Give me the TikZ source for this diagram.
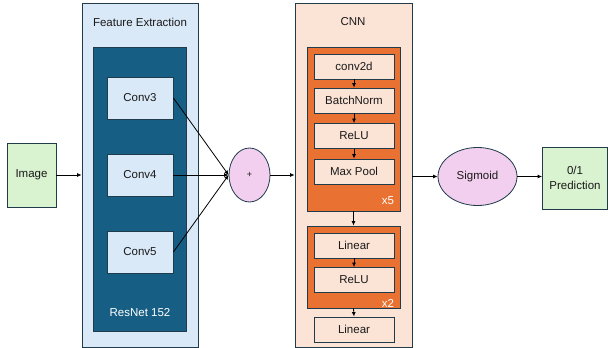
\documentclass[tikz,border=0pt]{standalone}
\usepackage{fontspec}
\setmainfont{Liberation Sans}
\usetikzlibrary{arrows.meta,shapes.geometric}
\definecolor{lblue}{HTML}{DAE9F8}
\definecolor{resblue}{HTML}{175E84}
\definecolor{bord}{HTML}{1F3B4C}
\definecolor{peach}{HTML}{FBE3D6}
\definecolor{orng}{HTML}{E97132}
\definecolor{pinkf}{HTML}{F2CFEE}
\definecolor{greenf}{HTML}{D9F2D0}
\definecolor{txt}{HTML}{1A1A1A}
\tikzset{
  x=1pt, y=-1pt,
  every node/.style={font=\fontsize{11.5}{13.5}\selectfont, inner sep=0pt, text=txt},
  frame/.style={draw=bord, line width=0.8pt, rectangle},
  bluebox/.style={frame, fill=lblue},
  peachbox/.style={frame, fill=peach, minimum width=80pt, minimum height=25pt},
  orangebox/.style={frame, fill=orng},
  greenbox/.style={frame, fill=greenf},
  oval/.style={draw=bord, line width=0.8pt, ellipse, fill=pinkf},
  arr/.style={-{Latex[length=4.5pt,width=4pt]}, line width=0.8pt, black},
  wlabel/.style={text=white},
}
\begin{document}
\begin{tikzpicture}
\useasboundingbox (0,0) rectangle (608,348);
\fill[white] (0,0) rectangle (608,348);

% Image
\node[greenbox, minimum width=49pt, minimum height=64pt] (img) at (31.5,175) {Image};

% Feature extraction
\node[bluebox, minimum width=116pt, minimum height=344pt] (fe) at (140,175) {};
\node (fetitle) at (140,22) {Feature Extraction};
\node[frame, fill=resblue, minimum width=93pt, minimum height=284pt] (res) at (139.5,189) {};
\node[wlabel] (reslabel) at (140,313) {ResNet 152};
\node[bluebox, minimum width=66pt, minimum height=42pt] (c3) at (140,98) {Conv3};
\node[bluebox, minimum width=66pt, minimum height=42pt] (c4) at (140,175) {Conv4};
\node[bluebox, minimum width=66pt, minimum height=42pt] (c5) at (140,252) {Conv5};

% plus
\node[oval, minimum width=41pt, minimum height=54pt] (plus) at (249.5,175) {\fontsize{9}{10}\selectfont +};

% CNN
\node[frame, fill=peach, minimum width=117pt, minimum height=344pt] (cnn) at (353.5,175) {};
\node (cnntitle) at (353,22) {CNN};
\node[orangebox, minimum width=93pt, minimum height=164pt] (blk1) at (353.5,129) {};
\node[wlabel] (x5) at (388,201) {x5};
\node[peachbox] (conv) at (354,66.5) {conv2d};
\node[peachbox] (bn) at (354,100.5) {BatchNorm};
\node[peachbox] (relu1) at (354,136) {ReLU};
\node[peachbox] (pool) at (354,171.5) {Max Pool};
\node[orangebox, minimum width=93pt, minimum height=82pt] (blk2) at (353.5,267) {};
\node[wlabel] (x2) at (388,303) {x2};
\node[peachbox] (lin1) at (354,245.5) {Linear};
\node[peachbox] (relu2) at (354,280) {ReLU};
\node[peachbox] (lin2) at (354,329.5) {Linear};

% Sigmoid
\node[oval, minimum width=79pt, minimum height=58pt] (sig) at (477.5,176.5) {Sigmoid};

% Prediction
\node[greenbox, minimum width=65pt, minimum height=62pt, align=center] (pred) at (575,178) {0/1\\[1pt]Prediction};

% connectors
\draw[arr] (img.east) -- (fe.west |- img.east);
\draw[arr] (c3.east) -- (plus.west);
\draw[arr] (c4.east) -- (plus.west);
\draw[arr] (c5.east) -- (plus.west);
\draw[arr] (plus.east) -- (cnn.west |- plus.east);
\draw[arr] (conv.south) -- (bn.north);
\draw[arr] (bn.south) -- (relu1.north);
\draw[arr] (relu1.south) -- (pool.north);
\draw[arr] (blk1.south) -- (blk2.north);
\draw[arr] (lin1.south) -- (relu2.north);
\draw[arr] (blk2.south) -- (lin2.north);
\draw[arr] (cnn.east |- sig.west) -- (sig.west);
\draw[arr] (sig.east) -- (pred.west |- sig.east);
\end{tikzpicture}
\end{document}
